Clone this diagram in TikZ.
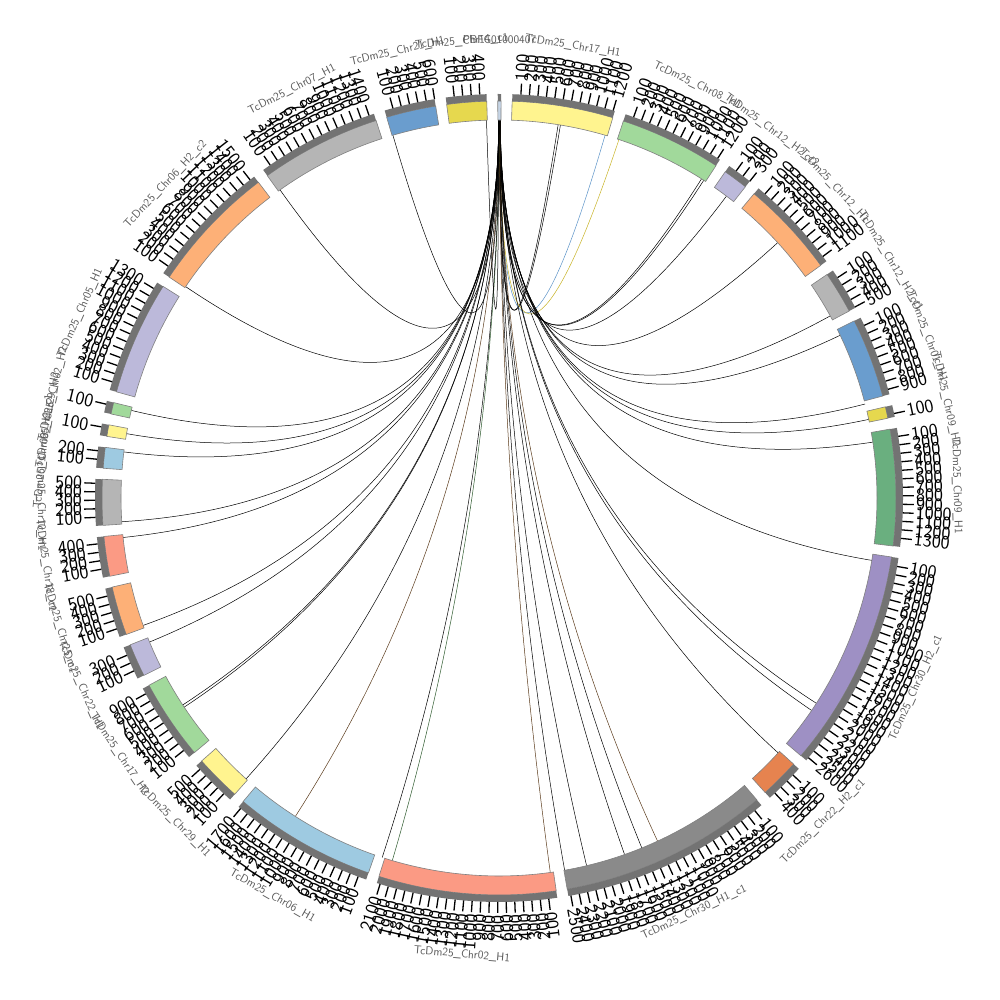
\documentclass[tikz,border=0pt]{standalone}
\usepackage{fontspec}
\usetikzlibrary{calc}
\definecolor{cyel}{HTML}{FFF48F}
\definecolor{cdyel}{HTML}{E6D84E}
\definecolor{cblue}{HTML}{6A9DCE}
\definecolor{cgrey}{HTML}{B5B5B5}
\definecolor{cdgrey}{HTML}{8A8A8A}
\definecolor{corange}{HTML}{FDB077}
\definecolor{clav}{HTML}{BCB9DA}
\definecolor{cgreen}{HTML}{A1D99B}
\definecolor{cdgreen}{HTML}{6AAF7F}
\definecolor{clblue}{HTML}{9ECAE1}
\definecolor{csalmon}{HTML}{FB9A84}
\definecolor{cred}{HTML}{E6834F}
\definecolor{cpurple}{HTML}{9E90C4}
\definecolor{cpbfg}{HTML}{C6D5E6}
\definecolor{cband}{HTML}{737373}
\definecolor{cbrown}{HTML}{5A3A1A}
\definecolor{colive}{HTML}{C9B52A}
\definecolor{cchblue}{HTML}{5B93C8}
\definecolor{cchgreen}{HTML}{2D5A2D}
\tikzset{
  segline/.style={draw=black!50, line width=0.6pt},
  bandfill/.style={fill=cband},
  tickline/.style={draw=black, line width=1.3pt},
  ticklab/.style={font=\sffamily\fontsize{19}{19}\selectfont, inner sep=0pt, text=black},
  namelab/.style={font=\sffamily\fontsize{11.5}{12}\selectfont, inner sep=0pt, text=black!65},
  chordline/.style={draw=black, line width=0.5pt}
}
% #1 start, #2 end, #3 colour, #4 ticks, #5 flip, #6 name, #7 id
\newcommand\seg[7]{%
  \pgfmathsetmacro\sa{90-(#1)}\pgfmathsetmacro\ea{90-(#2)}%
  \draw[segline, fill=#3] (\sa:378pt) arc[start angle=\sa, end angle=\ea, radius=378pt]
     -- (\ea:397pt) arc[start angle=\ea, end angle=\sa, radius=397pt] -- cycle;
  \fill[bandfill] (\sa:397pt) arc[start angle=\sa, end angle=\ea, radius=397pt]
     -- (\ea:404pt) arc[start angle=\ea, end angle=\sa, radius=404pt] -- cycle;
  \ifnum#4>0
  \foreach \k in {1,...,#4}{%
    \pgfmathsetmacro\ta{90-(#1)-1.21*\k}%
    \pgfmathtruncatemacro\lab{100*\k}%
    \draw[tickline] (\ta:404pt) -- (\ta:415pt);
    \ifnum#5=0
      \node[ticklab, rotate=\ta, anchor=west] (t#7-\k) at (\ta:417pt) {\lab};
    \else
      \pgfmathsetmacro\tb{\ta+180}%
      \node[ticklab, rotate=\tb, anchor=east] (t#7-\k) at (\ta:417pt) {\lab};
    \fi
  }\fi
  \pgfmathsetmacro\ma{((#1)+(#2))/2}%
  \pgfmathsetmacro\nr{ifthenelse(and(\ma>90,\ma<270),180-\ma,-\ma)}%
  \node[namelab, rotate=\nr] (n#7) at (90-\ma:458pt) {#6};
}
% #1 far angle, #2 near (PBFG) angle, #3 style, #4 id
\newcommand\chord[4]{%
  \coordinate (ca#4) at (90-#1:378pt);
  \coordinate (cb#4) at (90-#2:378pt);
  \draw[chordline, #3] (ca#4) .. controls ($(ca#4)!0.6667!(O)$) and ($(cb#4)!0.6667!(O)$) .. (cb#4);
}
\begin{document}
\begin{tikzpicture}
\useasboundingbox (0pt,0pt) rectangle (1000pt,1000pt);
\fill[white] (0pt,0pt) rectangle (1000pt,1000pt);
\begin{scope}[shift={(499pt,502pt)}]
\coordinate (O) at (0pt,0pt);
% chords
\chord{9.0}{0.02}{}{1}
\chord{9.35}{0.05}{}{2}
\chord{16.3}{0.08}{draw=cchblue}{3}
\chord{18.5}{0.10}{draw=colive}{4}
\chord{32.4}{0.12}{}{5}
\chord{32.8}{0.14}{}{6}
\chord{37.0}{0.16}{}{7}
\chord{47.5}{0.18}{}{8}
\chord{61.2}{0.20}{}{9}
\chord{64.5}{0.22}{}{10}
\chord{75.6}{0.22}{}{11}
\chord{78.0}{0.20}{}{12}
\chord{81.5}{0.20}{}{13}
\chord{99.5}{0.18}{}{14}
\chord{122.9}{0.16}{}{15}
\chord{124.2}{0.16}{}{16}
\chord{132.4}{0.14}{}{17}
\chord{155.2}{0.12}{draw=cbrown}{18}
\chord{157.8}{0.12}{}{19}
\chord{160.6}{0.10}{}{20}
\chord{166.6}{0.10}{}{21}
\chord{170.0}{0.08}{}{22}
\chord{172.2}{0.08}{draw=cbrown}{23}
\chord{196.4}{0.06}{draw=cchgreen}{24}
\chord{198.0}{0.06}{}{25}
\chord{212.6}{0.04}{draw=cbrown}{26}
\chord{222.0}{0.04}{}{27}
\chord{236.4}{0.02}{}{28}
\chord{236.8}{0.02}{}{29}
\chord{247.6}{0.00}{}{30}
\chord{250.3}{0.00}{}{31}
\chord{264.0}{-0.02}{}{32}
\chord{266.4}{-0.02}{}{33}
\chord{277.0}{-0.04}{}{34}
\chord{279.8}{-0.04}{}{35}
\chord{283.4}{-0.06}{}{36}
\chord{304.0}{-0.06}{}{37}
\chord{324.6}{-0.08}{}{38}
\chord{343.7}{-0.08}{}{39}
\chord{358.1}{-0.10}{}{40}
% segments
\seg{-0.18}{0.30}{cpbfg}{0}{0}{PBFG01000407}{1}
\seg{1.90}{16.66}{cyel}{12}{0}{TcDm25\_Chr17\_H1}{2}
\seg{18.26}{33.14}{cgreen}{12}{0}{TcDm25\_Chr08\_H1}{3}
\seg{34.74}{38.37}{clav}{3}{0}{TcDm25\_Chr12\_H2\_c2}{4}
\seg{39.97}{54.13}{corange}{11}{0}{TcDm25\_Chr12\_H1}{5}
\seg{55.73}{61.90}{cgrey}{5}{0}{TcDm25\_Chr12\_H2\_c1}{6}
\seg{63.50}{75.12}{cblue}{9}{0}{TcDm25\_Chr01\_H1}{7}
\seg{76.72}{78.41}{cdyel}{1}{0}{TcDm25\_Chr09\_H2}{8}
\seg{80.01}{96.95}{cdgreen}{13}{0}{TcDm25\_Chr09\_H1}{9}
\seg{98.55}{130.49}{cpurple}{26}{0}{TcDm25\_Chr30\_H2\_c1}{10}
\seg{132.09}{137.90}{cred}{4}{0}{TcDm25\_Chr22\_H2\_c1}{11}
\seg{139.50}{170.11}{cdgrey}{25}{0}{TcDm25\_Chr30\_H1\_c1}{12}
\seg{171.71}{197.60}{csalmon}{21}{1}{TcDm25\_Chr02\_H1}{13}
\seg{199.20}{220.13}{clblue}{17}{1}{TcDm25\_Chr06\_H1}{14}
\seg{221.73}{228.51}{cyel}{5}{1}{TcDm25\_Chr29\_H1}{15}
\seg{230.11}{241.85}{cgreen}{9}{1}{TcDm25\_Chr17\_H2}{16}
\seg{243.45}{248.29}{clav}{3}{1}{TcDm25\_Chr22\_H1}{17}
\seg{249.89}{257.03}{corange}{5}{1}{TcDm25\_Chr25\_c1}{18}
\seg{258.63}{264.44}{csalmon}{4}{1}{TcDm25\_Chr18\_c1}{19}
\seg{266.04}{272.70}{cgrey}{5}{1}{TcDm25\_Chr10\_H1}{20}
\seg{274.30}{277.33}{clblue}{2}{1}{TcDm25\_Chr06\_H2\_c1}{21}
\seg{278.93}{280.62}{cyel}{1}{1}{TcDm25\_Chr29\_H2}{22}
\seg{282.22}{283.91}{cgreen}{1}{1}{TcDm25\_Chr02\_H2}{23}
\seg{285.51}{302.21}{clav}{13}{1}{TcDm25\_Chr05\_H1}{24}
\seg{303.81}{322.69}{corange}{15}{1}{TcDm25\_Chr06\_H2\_c2}{25}
\seg{324.29}{341.96}{cgrey}{14}{1}{TcDm25\_Chr07\_H1}{26}
\seg{343.56}{350.82}{cblue}{6}{1}{TcDm25\_Chr21\_H1}{27}
\seg{352.42}{358.23}{cdyel}{4}{1}{TcDm25\_Chr14\_c1}{28}
\end{scope}
\end{tikzpicture}
\end{document}
